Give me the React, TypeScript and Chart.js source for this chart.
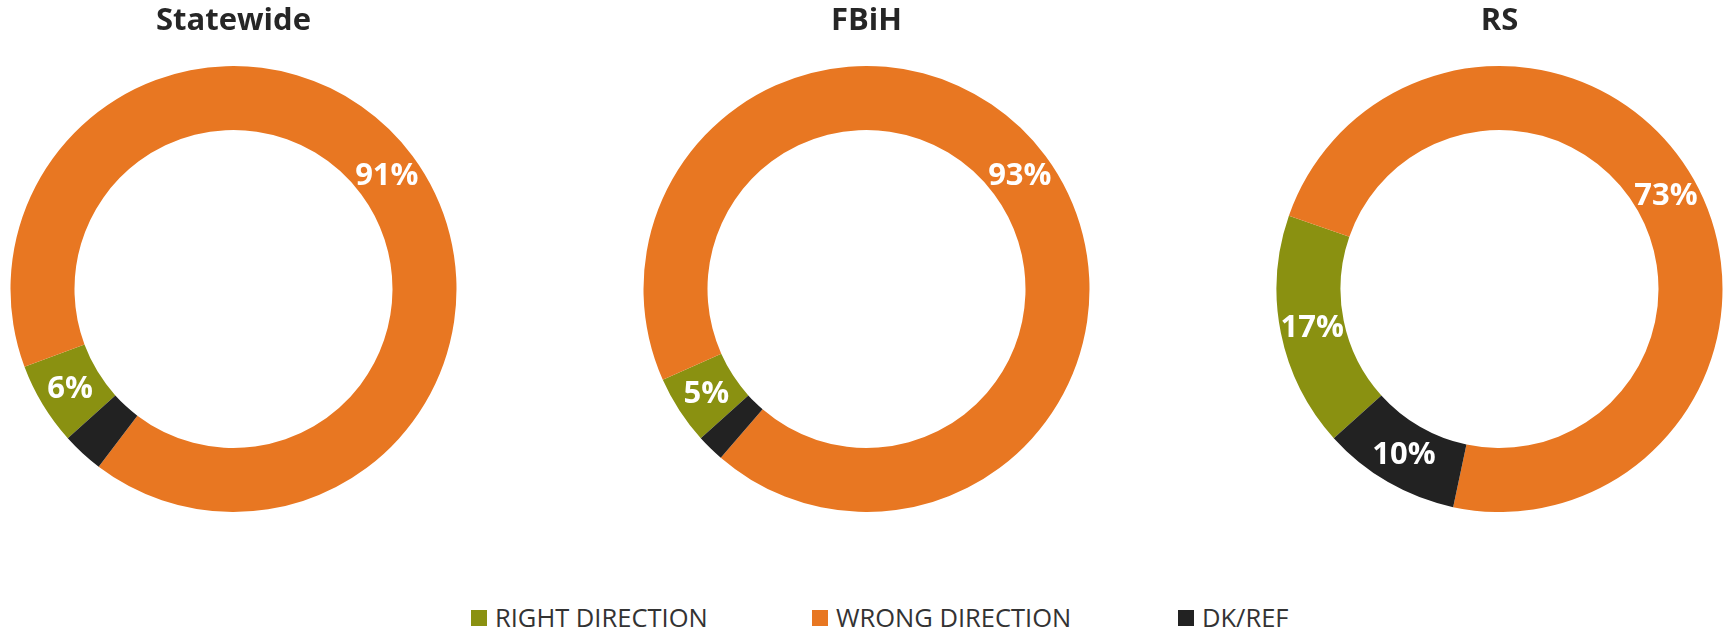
import React, { useEffect, useRef } from "react";
import { Chart, registerables } from "chart.js";

Chart.register(...registerables);

const categories = ["RIGHT DIRECTION", "WRONG DIRECTION", "DK/REF"];
const sliceColors = ["#8A9111", "#E87722", "#222222"];
const statewideValues = [6, 91, 3];
const fbihValues = [5, 93, 2];
const rsValues = [17, 73, 10];
const chartTitles = ["Statewide", "FBiH", "RS"];
const allValues = [statewideValues, fbihValues, rsValues];

const FONT = "'Open Sans', 'DejaVu Sans', sans-serif";

const labelPlugin = {
  id: "sliceLabels",
  afterDatasetsDraw(chart: any) {
    const ctx = chart.ctx;
    const meta = chart.getDatasetMeta(0);
    const data = chart.data.datasets[0].data as number[];
    ctx.save();
    ctx.font = `bold 31px ${FONT}`;
    ctx.fillStyle = "#FFFFFF";
    ctx.textAlign = "center";
    ctx.textBaseline = "middle";
    meta.data.forEach((arc: any, i: number) => {
      const v = data[i];
      if (v < 5) return;
      const p = arc.tooltipPosition();
      ctx.fillText(`${v}%`, p.x, p.y + 1);
    });
    ctx.restore();
  },
};

function Donut({ title, values, left }: { title: string; values: number[]; left: number }) {
  const ref = useRef<HTMLCanvasElement | null>(null);
  useEffect(() => {
    if (!ref.current) return;
    const chart = new Chart(ref.current, {
      type: "doughnut",
      data: {
        labels: categories,
        datasets: [
          {
            data: values,
            backgroundColor: sliceColors,
            borderWidth: 0,
          },
        ],
      },
      options: {
        responsive: false,
        animation: false,
        cutout: "71.3%",
        rotation: 228,
        layout: { padding: 0 },
        plugins: {
          legend: { display: false },
          tooltip: { enabled: false },
          title: {
            display: true,
            text: title,
            color: "#262626",
            font: { family: FONT, size: 31, weight: "bold", lineHeight: 1.2 },
            padding: { top: 3, bottom: 25.8 },
          },
        },
      },
      plugins: [labelPlugin],
    });
    return () => chart.destroy();
  }, [title, values]);
  return (
    <canvas
      ref={ref}
      width={447}
      height={512}
      style={{ position: "absolute", left, top: 0, width: 447, height: 512 }}
    />
  );
}

const legendLefts = [471, 812, 1178];

export default function App() {
  const lefts = [10, 643, 1276];
  return (
    <div
      style={{
        position: "absolute",
        left: 0,
        top: 0,
        width: 1723,
        height: 631,
        background: "#FFFFFF",
        overflow: "hidden",
      }}
    >
      {chartTitles.map((t, i) => (
        <Donut key={t} title={t} values={allValues[i]} left={lefts[i]} />
      ))}
      {categories.map((c, i) => (
        <div
          key={c}
          style={{
            position: "absolute",
            left: legendLefts[i],
            top: 605,
            height: 24,
            display: "flex",
            alignItems: "center",
            fontFamily: FONT,
            fontSize: 25.5,
            lineHeight: "24px",
            color: "#333333",
            whiteSpace: "nowrap",
          }}
        >
          <span
            style={{
              display: "inline-block",
              width: 16,
              height: 16,
              background: sliceColors[i],
              marginRight: 8,
              position: "relative",
              top: 1,
            }}
          />
          <span>{c}</span>
        </div>
      ))}
    </div>
  );
}
